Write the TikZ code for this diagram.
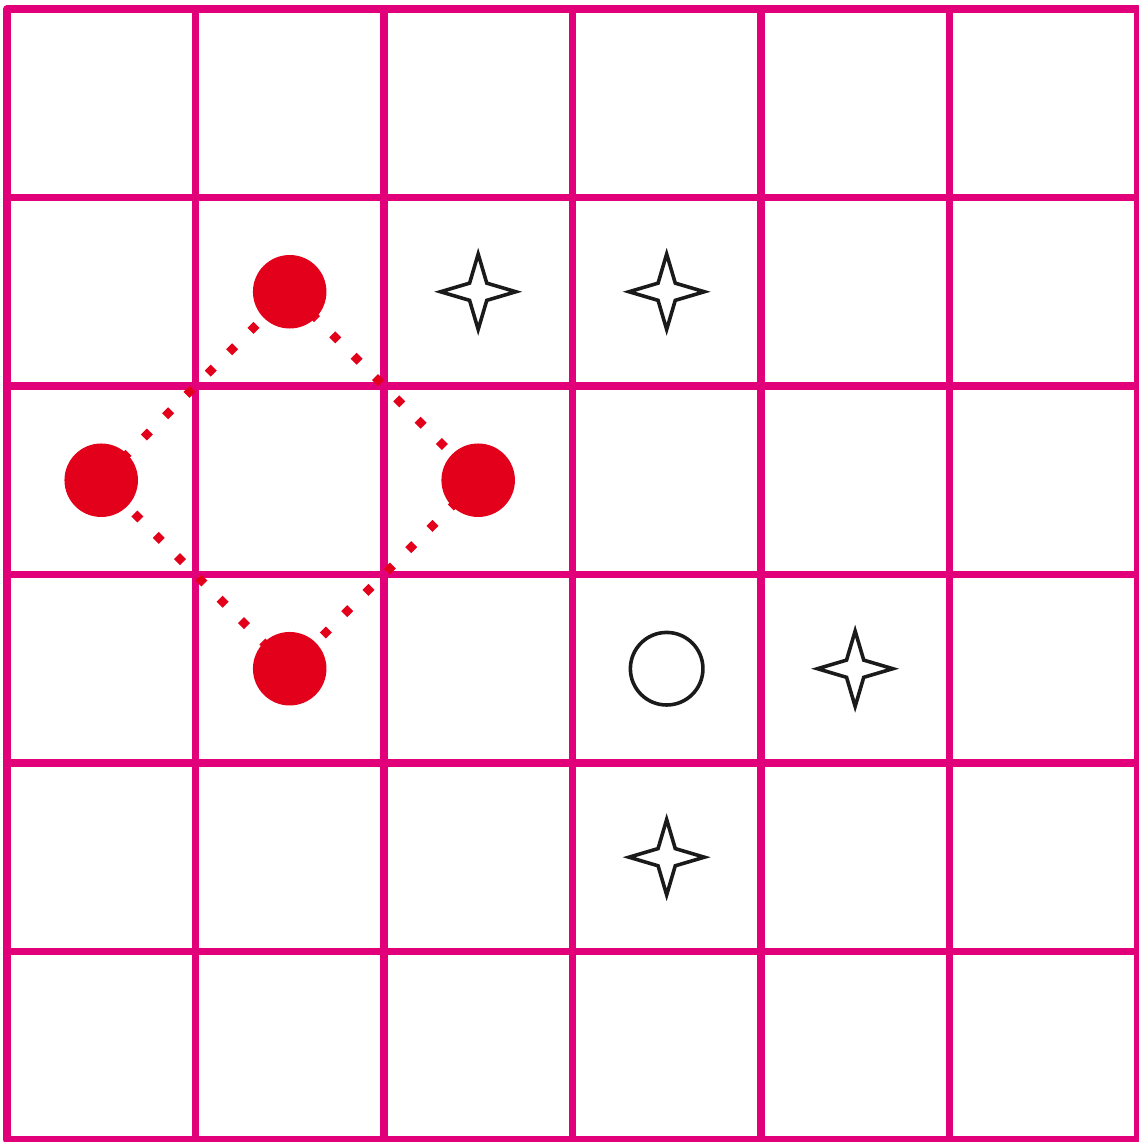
\documentclass[tikz,border=0pt]{standalone}
\usepackage{xcolor}
\usepackage{tikz}
\usetikzlibrary{shapes.geometric}

\definecolor{gridmag}{HTML}{E2007A}
\definecolor{dotred}{HTML}{E2001A}
\definecolor{inkblack}{HTML}{1A1A1A}

\begin{document}
\begin{tikzpicture}[
  gridline/.style={
    draw=gridmag,
    line width=0.041cm,
    line cap=round
  },
  reddot/.style={
    circle,
    fill=dotred,
    inner sep=0pt,
    minimum size=0.39cm
  },
  ring/.style={
    circle,
    draw=inkblack,
    line width=0.019cm,
    inner sep=0pt,
    minimum size=0.385cm
  },
  sparkle/.style={
    star,
    star points=4,
    star point ratio=3.1,
    draw=inkblack,
    line width=0.019cm,
    inner sep=0pt,
    minimum size=0.40cm
  },
  dotlink/.style={
    draw=dotred,
    line width=0.045cm,
    dash pattern=on 0.045cm off 0.115cm
  }
]

\useasboundingbox (-0.037,-0.011) rectangle (6.005,6.048);

% Board
\draw[gridline] (0,0) grid (6,6);

% -------------------------------------------------------------------
% Red dots
% -------------------------------------------------------------------
\node[reddot] (top)    at (1.5,4.5) {};
\node[reddot] (left)   at (0.5,3.5) {};
\node[reddot] (right)  at (2.5,3.5) {};
\node[reddot] (bottom) at (1.5,2.5) {};

% Dotted links
\draw[dotlink] (top.center) -- (right.center);
\draw[dotlink] (right.center) -- (bottom.center);
\draw[dotlink] (bottom.center) -- (left.center);
\draw[dotlink] (left.center) -- (top.center);

% -------------------------------------------------------------------
% Stars and ring
% -------------------------------------------------------------------
\node[sparkle] (st1) at (2.5,4.5) {};
\node[sparkle] (st2) at (3.5,4.5) {};
\node[sparkle] (st3) at (4.5,2.5) {};
\node[sparkle] (st4) at (3.5,1.5) {};

\node[ring] (ring) at (3.5,2.5) {};

\end{tikzpicture}
\end{document}
